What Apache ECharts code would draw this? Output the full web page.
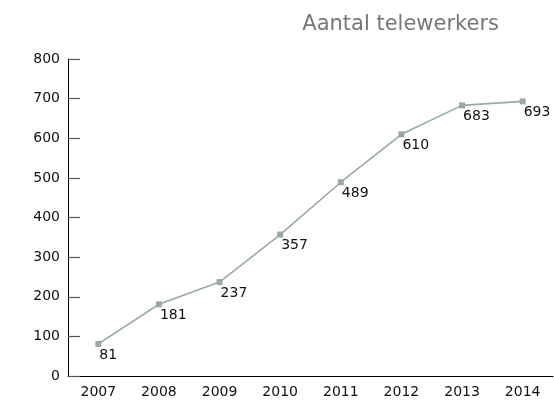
<!DOCTYPE html>
<html>
<head>
<meta charset="utf-8">
<script src="https://cdn.jsdelivr.net/npm/echarts@6/dist/echarts.min.js"></script>
<style>
  html, body { margin: 0; padding: 0; background: #fff; }
  #chart { width: 554px; height: 400px; }
</style>
</head>
<body>
<div id="chart"></div>
<script>
// jaren en aantal telewerkers
const years = ["2007", "2008", "2009", "2010", "2011", "2012", "2013", "2014"];
const values = [81, 181, 237, 357, 489, 610, 683, 693];
const titleText = "Aantal telewerkers";

const chart = echarts.init(document.getElementById("chart"));
const font = "'DejaVu Sans', sans-serif";

const option = {
  animation: false,
  title: {
    text: titleText,
    right: 50,
    top: 9,
    textStyle: { color: "#777", fontSize: 21, fontWeight: "normal", fontFamily: font },
  },
  grid: { left: 68, right: 1, top: 59, bottom: 24 },
  xAxis: {
    type: "category",
    data: years,
    boundaryGap: true,
    axisLine: { lineStyle: { color: "#000", width: 1 } },
    axisTick: { inside: true, length: 8, lineStyle: { color: "#000" } },
    axisLabel: { color: "#111", fontSize: 14, fontFamily: font, margin: 9 },
  },
  yAxis: {
    type: "value",
    min: 0,
    max: 800,
    interval: 100,
    axisLine: { show: true, lineStyle: { color: "#000", width: 1 } },
    axisTick: { show: true, inside: true, length: 12, lineStyle: { color: "#555", width: 1.2 } },
    axisLabel: { color: "#111", fontSize: 14, fontFamily: font, margin: 8 },
    splitLine: { show: false },
  },
  series: [
    {
      type: "line",
      data: values,
      symbol: "rect",
      symbolSize: 6,
      lineStyle: { color: "#97ab9f", width: 1.6 },
      itemStyle: { color: "#97ab9f" },
      label: {
        show: true,
        position: [4, 7],
        align: "left",
        verticalAlign: "top",
        color: "#111",
        fontSize: 14,
        fontFamily: font,
      },
    },
  ],
};
chart.setOption(option);
</script>
</body>
</html>
